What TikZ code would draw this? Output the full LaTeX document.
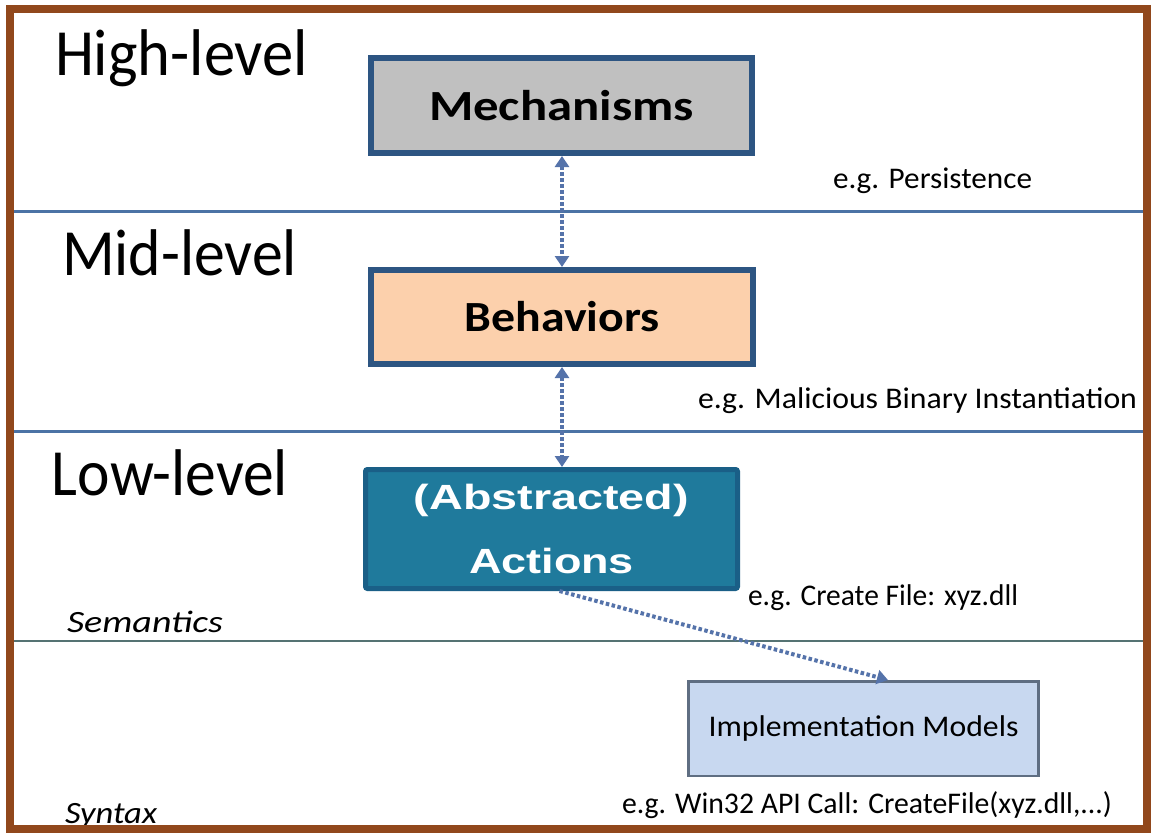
\documentclass[tikz,border=0pt]{standalone}
\usepackage{fontspec}
\setmainfont{Carlito}
\newfontfamily\arialfont{Liberation Sans}
\usetikzlibrary{arrows.meta}
\newcommand{\fitw}[2]{\resizebox{#1}{\height}{#2}}
\definecolor{framebrown}{RGB}{145,72,28}
\definecolor{sepblue}{RGB}{75,115,165}
\definecolor{sepgreen}{RGB}{85,115,115}
\definecolor{boxborder}{RGB}{45,85,130}
\definecolor{mechgray}{RGB}{192,192,192}
\definecolor{behpeach}{RGB}{252,208,172}
\definecolor{actteal}{RGB}{31,122,156}
\definecolor{actborder}{RGB}{26,95,135}
\definecolor{implfill}{RGB}{200,216,240}
\definecolor{implborder}{RGB}{95,110,130}
\definecolor{arrowblue}{RGB}{85,115,170}
\begin{document}
\begin{tikzpicture}[x=1pt,y=-1pt,
  txt/.style={anchor=base west,inner sep=0pt,outer sep=0pt,text=black},
  sepline/.style={draw=sepblue,line width=3pt},
  sepline2/.style={draw=sepgreen,line width=2pt},
  layerbox/.style={draw=boxborder,line width=6pt,inner sep=0pt},
  actbox/.style={draw=actborder,fill=actteal,line width=5pt,inner sep=0pt,text=white,align=center,rounded corners=2pt},
  implbox/.style={draw=implborder,fill=implfill,line width=2.5pt,inner sep=0pt},
  dotline/.style={draw=arrowblue,line width=4pt,dash pattern=on 3.5pt off 2.5pt},
  biarrow/.style={dotline,arrows={Triangle[width=14pt,length=11pt]-Triangle[width=14pt,length=11pt]}},
  onearrow/.style={dotline,arrows={-Triangle[width=14pt,length=11pt]}}
]
\useasboundingbox (0,0) rectangle (1151,833);
\fill[white] (0,0) rectangle (1151,833);

% separators
\draw[sepline] (13,211) -- (1143,211);
\draw[sepline] (13,431) -- (1143,431);
\draw[sepline2] (13,641) -- (1143,641);

% level labels
\node[txt] (high) at (55,75) {\fitw{253pt}{\fontsize{66}{66}\selectfont High-level}};
\node[txt] (mid) at (62,275) {\fitw{235pt}{\fontsize{66}{66}\selectfont Mid-level}};
\node[txt] (low) at (52,495) {\fitw{236pt}{\fontsize{66}{66}\selectfont Low-level}};
\node[txt] (sem) at (67,632) {\fitw{156pt}{\fontsize{31}{31}\selectfont\itshape Semantics}};
\node[txt] (syn) at (65,823) {\fitw{92pt}{\fontsize{31}{31}\selectfont\itshape Syntax}};

% example labels
\node[txt] (expers) at (833,188) {\fitw{199pt}{\fontsize{30}{30}\selectfont e.g. Persistence}};
\node[txt] (exmal) at (698,408) {\fitw{439pt}{\fontsize{30}{30}\selectfont e.g. Malicious Binary Instantiation}};
\node[txt] (excre) at (748,605) {\fitw{270pt}{\fontsize{30}{30}\selectfont e.g. Create File: xyz.dll}};
\node[txt] (exwin) at (622,813) {\fitw{490pt}{\fontsize{30}{30}\selectfont e.g. Win32 API Call: CreateFile(xyz.dll,...)}};

% boxes
\node[layerbox,fill=mechgray,minimum width=381pt,minimum height=95pt] (mech) at (561.5,105.5)
  {\fitw{265pt}{\fontsize{43}{43}\selectfont\bfseries Mechanisms}};
\node[layerbox,fill=behpeach,minimum width=382pt,minimum height=94pt] (beh) at (562,317)
  {\fitw{195pt}{\fontsize{43}{43}\selectfont\bfseries Behaviors}};
\node[actbox,minimum width=372pt,minimum height=119pt] (act) at (551.5,529)
  {\fitw{275pt}{\fontsize{35}{35}\selectfont\arialfont\bfseries (Abstracted)}\\[31pt]
   \fitw{165pt}{\fontsize{35}{35}\selectfont\arialfont\bfseries Actions}};
\node[implbox,minimum width=350pt,minimum height=94.5pt] (impl) at (863.5,728.5)
  {\fitw{310pt}{\fontsize{30}{30}\selectfont Implementation Models}};

% connectors
\draw[biarrow] ([xshift=0.5pt]mech.south) -- ([xshift=0pt]beh.north);
\draw[biarrow] (beh.south) -- ([xshift=10.5pt]act.north);
\draw[onearrow] ([xshift=8pt]act.south) -- ([xshift=24.5pt]impl.north);

% frame
\draw[framebrown,line width=8pt] (10,9) rectangle (1147,829);
\end{tikzpicture}
\end{document}
